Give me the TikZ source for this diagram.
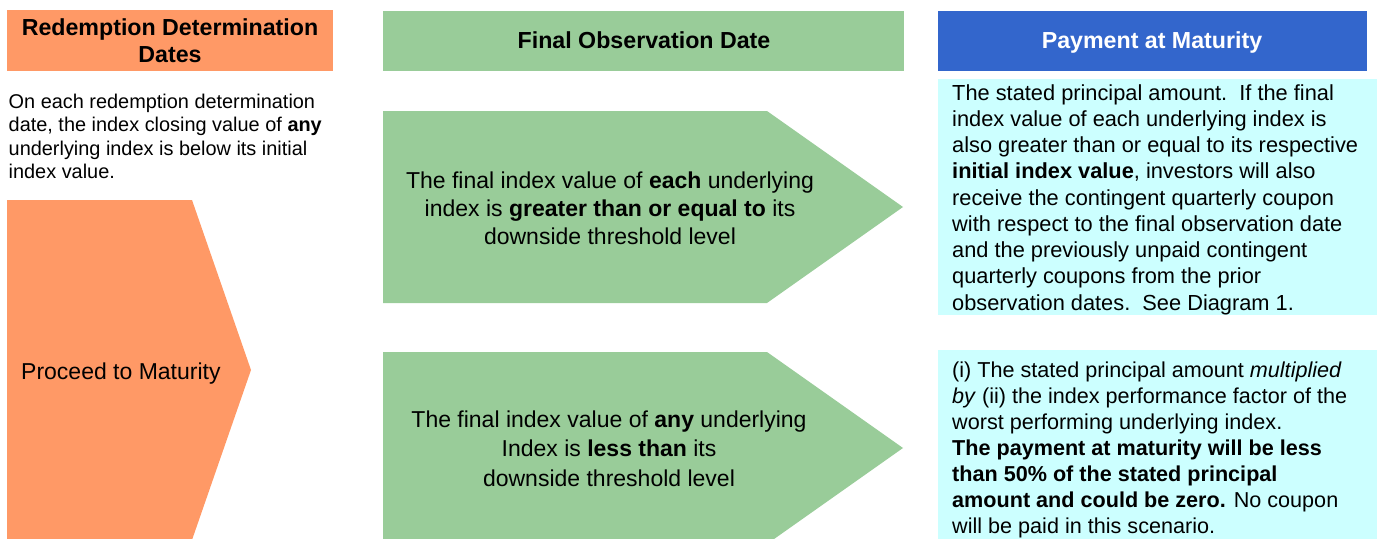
\documentclass[tikz,border=0pt]{standalone}
\usepackage{fontspec}
\setmainfont{Liberation Sans}
\definecolor{orangeF}{RGB}{255,153,102}
\definecolor{greenF}{RGB}{153,204,153}
\definecolor{blueF}{RGB}{51,102,204}
\definecolor{cyanF}{RGB}{204,255,255}
\tikzset{
  hdrtext/.style={inner sep=0pt, align=center, font=\fontsize{23.2}{27}\selectfont\bfseries},
  lefttext/.style={inner sep=0pt, align=left, anchor=north west, font=\fontsize{19.9}{23.4}\selectfont},
  proctext/.style={inner sep=0pt, anchor=base west, font=\fontsize{23}{28}\selectfont},
  greentext/.style={inner sep=0pt, align=center, anchor=north},
  cyantext/.style={inner sep=0pt, align=left, anchor=north west},
}
\begin{document}
\begin{tikzpicture}[x=1pt,y=-1pt]
\useasboundingbox (0,0) rectangle (1381,538);
\clip (0,0) rectangle (1381,538);
% header boxes
\fill[orangeF] (7,10) rectangle (333,71);
\fill[greenF] (383,10.5) rectangle (904,71);
\fill[blueF] (938,10.5) rectangle (1367,71);
% left chevron
\fill[orangeF] (7,200) -- (192,200) -- (251,370) -- (192,540) -- (7,540) -- cycle;
% green pentagons
\fill[greenF] (383,111) -- (767,111) -- (903,207) -- (767,303) -- (383,303) -- cycle;
\fill[greenF] (383,352) -- (767,352) -- (903,448) -- (767,544) -- (383,544) -- cycle;
% cyan boxes
\fill[cyanF] (938,79) rectangle (1377,315);
\fill[cyanF] (938,350) rectangle (1377,545);
% texts
\node[hdrtext, anchor=north] (h1) at (170,18.2) {Redemption Determination\\Dates};
\node[hdrtext, anchor=base] (h2) at (644,48) {Final Observation Date};
\node[hdrtext, anchor=base, text=white] (h3) at (1152,48) {Payment at Maturity};
\node[lefttext] (l1) at (8.5,93.6) {On each redemption determination\\date, the index closing value of \textbf{any}\\underlying index is below its initial\\index value.};
\node[proctext] (p1) at (21,379) {Proceed to Maturity};
\node[greentext, font=\fontsize{23}{28}\selectfont] (g1) at (610,171.2) {The final index value of \textbf{each} underlying\\index is \textbf{greater than or equal to} its\\downside threshold level};
\node[greentext, font=\fontsize{23}{29.5}\selectfont] (g2) at (609,410.2) {The final index value of \textbf{any} underlying\\Index is \textbf{less than} its\\downside threshold level};
\node[cyantext, font=\fontsize{21.8}{26.25}\selectfont] (c1) at (952,84.1) {The stated principal amount.\ \ If the final\\index value of each underlying index is\\also greater than or equal to its respective\\\textbf{initial index value}, investors will also\\receive the contingent quarterly coupon\\with respect to the final observation date\\and the previously unpaid contingent\\quarterly coupons from the prior\\observation dates.\ \ See Diagram 1.};
\node[cyantext, font=\fontsize{21.6}{26}\selectfont] (c2) at (952,361.2) {(i) The stated principal amount \textit{multiplied}\\\textit{by} (ii) the index performance factor of the\\worst performing underlying index.\\\textbf{The payment at maturity will be less}\\\textbf{than 50\% of the stated principal}\\\textbf{amount and could be zero.} No coupon\\will be paid in this scenario.};
\end{tikzpicture}
\end{document}
